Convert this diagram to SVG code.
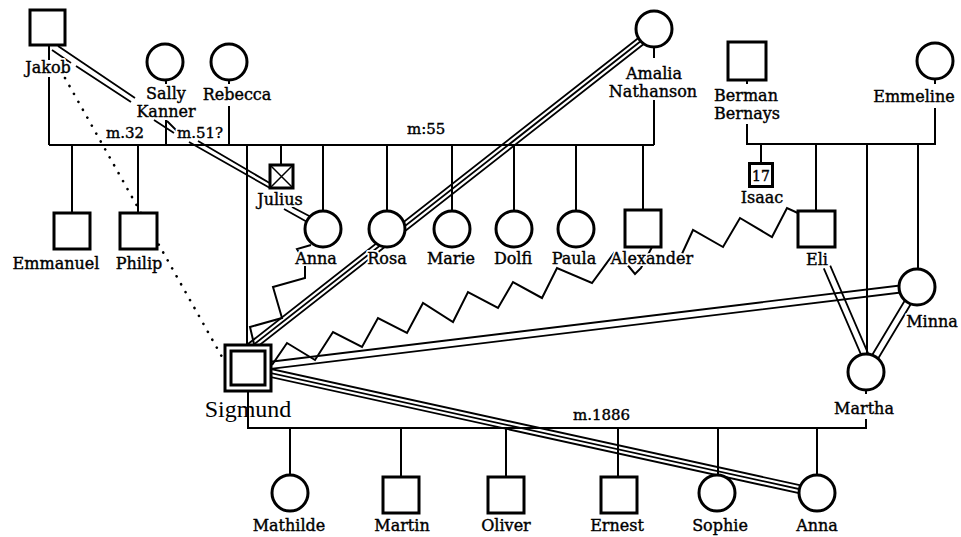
<svg xmlns="http://www.w3.org/2000/svg" width="961" height="537" viewBox="0 0 961 537">
<style>
.ln{fill:none;stroke:#000;stroke-width:2;stroke-linecap:butt}
.bd{fill:none;stroke:#000;stroke-width:1.8}
.zz{fill:none;stroke:#000;stroke-width:2;stroke-linejoin:miter}
.dot{fill:none;stroke:#000;stroke-width:2.6;stroke-linecap:round;stroke-dasharray:0.1 9}
.nd{fill:#fff;stroke:#000;stroke-width:3}
.t{font-family:"DejaVu Serif","Liberation Serif",serif;font-size:16px;fill:#000;text-anchor:middle}
.m{font-size:15px;text-anchor:start}
.halo{stroke:#fff;stroke-width:4px;stroke-linejoin:round}
.ink{stroke:#000;stroke-width:0.4px}
</style>
<defs>
<g id="labeltexts">
  <text class="t" x="48" y="73">Jakob</text>
  <text class="t" x="166" y="99">Sally</text>
  <text class="t" x="166" y="117">Kanner</text>
  <text class="t" x="237" y="100">Rebecca</text>
  <text class="t m" x="106" y="138">m.32</text>
  <text class="t m" x="177" y="138">m.51?</text>
  <text class="t m" x="407" y="134">m:55</text>
  <text class="t" x="654" y="79">Amalia</text>
  <text class="t" x="653" y="97">Nathanson</text>
  <text class="t" x="746" y="101">Berman</text>
  <text class="t" x="747" y="119">Bernays</text>
  <text class="t" x="914" y="102">Emmeline</text>
  <text class="t" x="56" y="269">Emmanuel</text>
  <text class="t" x="139" y="269">Philip</text>
  <text class="t" x="280" y="205">Julius</text>
  <text class="t" x="316" y="264">Anna</text>
  <text class="t" x="387" y="264">Rosa</text>
  <text class="t" x="451" y="264">Marie</text>
  <text class="t" x="513" y="264">Dolfi</text>
  <text class="t" x="574" y="264">Paula</text>
  <text class="t" x="652" y="264">Alexander</text>
  <text class="t" x="762" y="203">Isaac</text>
  <text class="t" x="817" y="265">Eli</text>
  <text class="t" x="932" y="327">Minna</text>
  <text class="t m" x="573" y="420">m.1886</text>
  <text class="t" x="864" y="414">Martha</text>
  <text class="t" x="289" y="531">Mathilde</text>
  <text class="t" x="402" y="531">Martin</text>
  <text class="t" x="506" y="531">Oliver</text>
  <text class="t" x="617" y="531">Ernest</text>
  <text class="t" x="720" y="531">Sophie</text>
  <text class="t" x="817" y="531">Anna</text>
</g>
</defs>
<rect width="961" height="537" fill="#fff"/>
<g id="connectors">
  <path class="ln" d="M49,145 H654 M49,45 V60 M49,77 V145 M166,80 V84 M166,120 V145 M229,80 V84 M229,106 V145 M654,47 V58 M654,100 V145"/>
  <path class="ln" d="M72,145 V213 M138,145 V213 M247,145 V345 M281,145 V165 M323,145 V211 M387,145 V211 M452,145 V211 M514,145 V211 M576,145 V211 M643,145 V210"/>
  <path class="ln" d="M747,80 V84 M747,124 V144 H936 M935,79 V84 M935,108 V144 M761,144 V163 M816,144 V211 M867,144 V354 M918,144 V269"/>
  <path class="ln" d="M248,391 V428 H867 M866,390 V394 M866,419 V428 M290,428 V475 M401,428 V477 M506,428 V477 M618,428 V477 M718,428 V475 M817,428 V475"/>
  <path class="dot" d="M65,78 L226,364"/>
  <path class="bd" d="M58,46 L135,98 M52,50 L71,63 M76,66 L131,102 M154,120 L174,133 M167,121 L177,131 M189,142 L270,188 M198,141 L273,185 M284,209 L309,223 M292,207 L313,218"/>
  <path class="bd" d="M648.9,34.8 L247.6,349.4 M651.4,38 L250.1,352.5 M646.4,31.7 L245.1,346.3"/>
  <path class="bd" d="M248.4,371.5 L917.4,290.5 M247.6,364.5 L916.6,283.5"/>
  <path class="bd" d="M248,368 L817,493 M248.9,364.1 L817.9,489.1 M247.1,371.9 L816.1,496.9"/>
  <path class="bd" d="M823.8,268.4 L861.8,356.4 M830.2,265.6 L868.2,353.6 M914,285.2 L863,370.2 M920,288.8 L869,373.8"/>
  <polyline class="zz" points="311,245 297,249 305,262 305,278 273,287 282,318 250,327 254,344"/>
  <polyline class="zz" points="652,247 641,268 635,274 626,263 614,253 592,283 557,268 542,298 513,282 498,308 468,292 453,322 423,303 407,333 378,318 362,347 333,332 315,360 287,343 272,365"/>
  <polyline class="zz" points="800,214 787,208 772,237 740,218 723,247 693,230 681,256"/>
</g>
<g id="jakob"><rect class="nd" x="30" y="10" width="35" height="35"/></g>
<g id="sally"><circle class="nd" cx="165" cy="62" r="18"/></g>
<g id="rebecca"><circle class="nd" cx="229" cy="62" r="18"/></g>
<g id="amalia"><circle class="nd" cx="654" cy="29" r="18"/></g>
<g id="berman"><rect class="nd" x="728" y="42" width="38" height="38"/></g>
<g id="emmeline"><circle class="nd" cx="935" cy="61" r="18"/></g>
<g id="emmanuel"><rect class="nd" x="54" y="213" width="36" height="36"/></g>
<g id="philip"><rect class="nd" x="120" y="213" width="37" height="36"/></g>
<g id="julius"><rect class="nd" x="270" y="165" width="23" height="23"/><path d="M270,165 L293,188 M293,165 L270,188" stroke="#000" stroke-width="1.5"/></g>
<g id="anna-sister"><circle class="nd" cx="323" cy="229" r="18"/></g>
<g id="rosa"><circle class="nd" cx="387" cy="229" r="18"/></g>
<g id="marie"><circle class="nd" cx="452" cy="229" r="18"/></g>
<g id="dolfi"><circle class="nd" cx="514" cy="229" r="18"/></g>
<g id="paula"><circle class="nd" cx="576" cy="229" r="18"/></g>
<g id="alexander"><rect class="nd" x="625" y="210" width="36" height="37"/></g>
<g id="isaac"><rect class="nd" x="749.5" y="163.5" width="23" height="23" stroke-width="3.5"/><text x="761" y="181" style="font-family:'DejaVu Serif','Liberation Serif',serif;font-size:14px;text-anchor:middle;stroke:#000;stroke-width:0.4px">17</text></g>
<g id="eli"><rect class="nd" x="798" y="211" width="37" height="36"/></g>
<g id="minna"><circle class="nd" cx="917" cy="287" r="18"/></g>
<g id="sigmund"><rect class="nd" x="225" y="345" width="46" height="46" stroke-width="4"/><rect class="nd" x="231" y="351" width="34" height="34"/></g>
<g id="martha"><circle class="nd" cx="866" cy="372" r="18"/></g>
<g id="mathilde"><circle class="nd" cx="290" cy="493" r="18"/></g>
<g id="martin"><rect class="nd" x="383" y="477" width="36" height="36"/></g>
<g id="oliver"><rect class="nd" x="488" y="477" width="36" height="36"/></g>
<g id="ernest"><rect class="nd" x="601" y="477" width="36" height="36"/></g>
<g id="sophie"><circle class="nd" cx="717" cy="493" r="18"/></g>
<g id="anna-daughter"><circle class="nd" cx="817" cy="493" r="18"/></g>
<g id="labels">
  <use href="#labeltexts" class="halo"/>
  <use href="#labeltexts" class="ink"/>
  <text x="248" y="417" style="font-family:'Liberation Serif','DejaVu Serif',serif;font-size:24px;text-anchor:middle">Sigmund</text>
</g>
</svg>
